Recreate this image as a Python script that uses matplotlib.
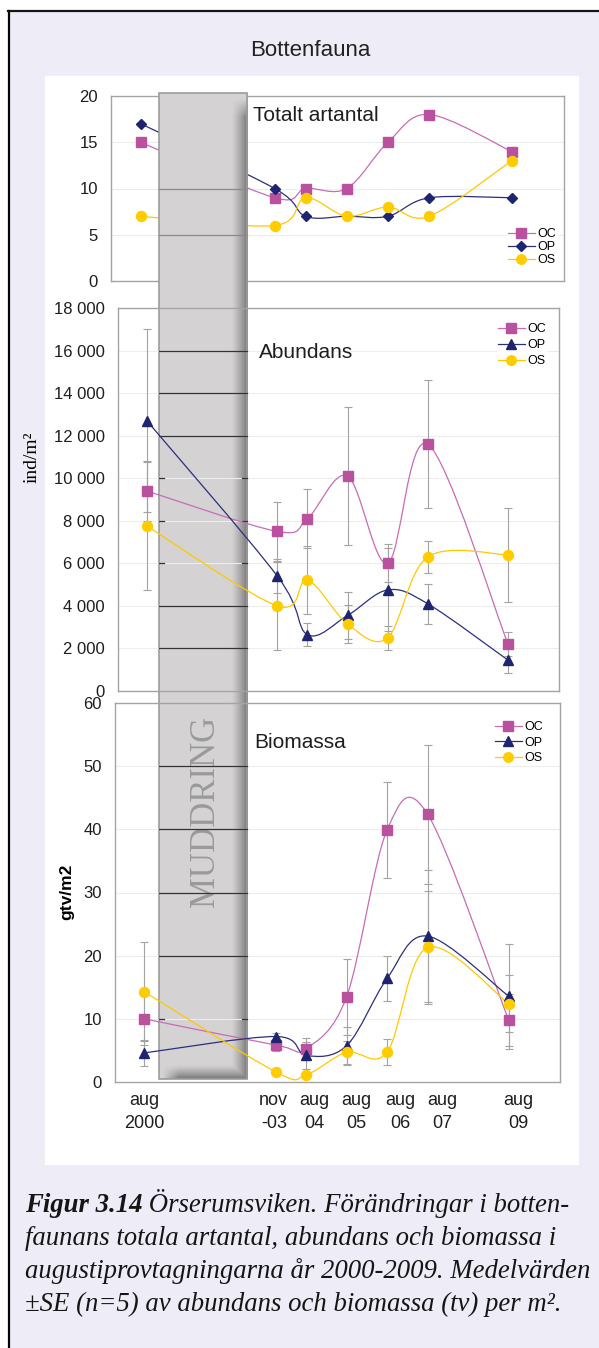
import numpy as np
import matplotlib
matplotlib.use('Agg')
import matplotlib.pyplot as plt
import matplotlib.transforms as mtransforms
from matplotlib.path import Path
from matplotlib.patches import PathPatch, Rectangle
from matplotlib.lines import Line2D
from matplotlib.ticker import FuncFormatter

# -------- data --------
dates = [2000.6, 2003.85, 2004.6, 2005.6, 2006.6, 2007.6, 2009.6]
date_labels = ['aug\n2000', 'nov\n-03', 'aug\n04', 'aug\n05', 'aug\n06', 'aug\n07', 'aug\n09']
label_dx = [0, -2, 8, 10, 13, 15, 10]   # pixel nudges of the x labels

art_oc = [15, 9, 10, 10, 15, 18, 14]
art_op = [17, 10, 7, 7, 7, 9, 9]
art_os = [7, 6, 9, 7, 8, 7, 13]

abu_oc = [9400, 7500, 8100, 10100, 6000, 11600, 2200]
abu_op = [12700, 5400, 2650, 3550, 4750, 4100, 1450]
abu_os = [7750, 4000, 5200, 3150, 2500, 6300, 6400]
abu_oc_se = [1400, 1400, 1400, 3250, 900, 3000, 550]
abu_op_se = [4300, 800, 550, 1100, 1950, 950, 600]
abu_os_se = [3000, 2050, 1600, 900, 550, 750, 2200]

bio_oc = [10.0, 5.85, 5.3, 13.5, 39.9, 42.4, 9.85]
bio_op = [4.6, 7.2, 4.2, 5.75, 16.4, 23.1, 13.6]
bio_os = [14.3, 1.6, 1.15, 4.7, 4.75, 21.3, 12.4]
bio_oc_se = [4.2, 1.0, 1.6, 6.0, 7.6, 11.0, 4.1]
bio_op_se = [2.0, 0.6, 2.2, 3.0, 3.5, 10.5, 8.3]
bio_os_se = [7.8, 0.4, 0.3, 1.8, 2.1, 9.0, 4.5]

muddring = (2000.97, 2003.15)   # dredging period shown as the grey bar

# -------- styles --------
plt.rcParams['font.family'] = ['Liberation Sans', 'DejaVu Sans']
LAV = '#eeedf7'
OC = dict(mc='#b9519f', lc='#c86bb7', m='s', ms=7)
OS = dict(mc='#ffcc00', lc='#ffc800', m='o', ms=7.2)
OP_D = dict(mc='#1f2470', lc='#2b307a', m='D', ms=5)
OP_T = dict(mc='#1f2470', lc='#2b307a', m='^', ms=7.5)
XLIM = (1999.88, 2010.87)

W, H = 599, 1348
fig = plt.figure(figsize=(W / 100, H / 100), dpi=100, facecolor='white')
px = mtransforms.Affine2D().scale(1 / W, -1 / H).translate(0, 1) + fig.transFigure


def rect(x0, y0, x1, y1):
    return [x0 / W, 1 - y1 / H, (x1 - x0) / W, (y1 - y0) / H]


# background, frame and white chart area
fig.add_artist(Rectangle((9, 11), 590, 1337, transform=px, facecolor=LAV, edgecolor='none'))
fig.add_artist(Line2D([8, 599], [11, 11], transform=px, color='#151515', lw=1.6))
fig.add_artist(Line2D([9, 9], [11, 1348], transform=px, color='#050505', lw=1.6))
fig.add_artist(Rectangle((45, 76), 534, 1089, transform=px, facecolor='white', edgecolor='none'))
fig.text(310 / W, 1 - 51 / H, 'Bottenfauna', fontsize=16, ha='center', va='center',
         family=['Liberation Sans Narrow', 'Liberation Sans'], color='#222222')


def smooth_path(x, y):
    # Excel-like smoothed line: cubic Bezier through every point
    pts = np.column_stack([x, y]).astype(float)
    n = len(pts)
    verts, codes = [pts[0]], [Path.MOVETO]
    for i in range(n - 1):
        p_prev, p0, p1, p_next = pts[max(i - 1, 0)], pts[i], pts[i + 1], pts[min(i + 2, n - 1)]
        verts += [p0 + (p1 - p_prev) / 6, p1 - (p_next - p0) / 6, p1]
        codes += [Path.CURVE4] * 3
    return Path(verts, codes)


def draw_series(ax, y, st, se=None, name=None):
    if se is not None:
        ax.errorbar(dates, y, yerr=se, fmt='none', ecolor='#a3a3a3', elinewidth=0.8,
                    capsize=2.6, capthick=0.8, zorder=2)
    ax.add_patch(PathPatch(smooth_path(dates, y), fill=False, edgecolor=st['lc'], lw=0.9, zorder=3))
    ax.plot(dates, y, ls='none', marker=st['m'], ms=st['ms'], mfc=st['mc'], mec=st['mc'], zorder=4)
    return Line2D([], [], color=st['lc'], lw=0.9, marker=st['m'], ms=st['ms'] * 0.95,
                  mfc=st['mc'], mec=st['mc'], label=name)


def style(ax, top, step):
    ax.set_facecolor('none')
    ax.set_xlim(*XLIM)
    ax.set_ylim(0, top)
    ax.set_yticks(np.arange(0, top + step / 2, step))
    for s in ax.spines.values():
        s.set_color('#a4a4a4')
        s.set_linewidth(1.0)
    ax.grid(axis='y', color='#ededed', lw=0.8)
    ax.set_axisbelow(True)
    ax.tick_params(axis='y', length=0, pad=9.5, labelsize=12, labelcolor='#1e1e1e')
    ax.tick_params(axis='x', length=0)


ax1 = fig.add_axes(rect(111, 96, 564, 281), zorder=1)
ax2 = fig.add_axes(rect(118, 308, 559, 691), zorder=3)
ax3 = fig.add_axes(rect(115, 703, 560, 1082), zorder=3)

style(ax1, 20, 5)
style(ax2, 18000, 2000)
style(ax3, 60, 10)
ax1.set_xticks([])
ax2.set_xticks([])
ax2.yaxis.set_major_formatter(FuncFormatter(lambda v, p: f'{int(v):,}'.replace(',', ' ')))

# --- Totalt artantal ---
h1 = [draw_series(ax1, art_oc, OC, name='OC'),
      draw_series(ax1, art_op, OP_D, name='OP'),
      draw_series(ax1, art_os, OS, name='OS')]
ax1.text(0.313, 0.892, 'Totalt artantal', transform=ax1.transAxes, fontsize=15,
         ha='left', va='center', color='#1e1e1e')

# --- Abundans ---
h2 = [draw_series(ax2, abu_oc, OC, abu_oc_se, 'OC'),
      draw_series(ax2, abu_op, OP_T, abu_op_se, 'OP'),
      draw_series(ax2, abu_os, OS, abu_os_se, 'OS')]
ax2.text(0.32, 0.885, 'Abundans', transform=ax2.transAxes, fontsize=15,
         ha='left', va='center', color='#1e1e1e')
ax2.set_ylabel('ind/m²', family='Liberation Serif', fontsize=14, va='center')
ax2.yaxis.set_label_coords(-0.195, 0.611)

# --- Biomassa ---
h3 = [draw_series(ax3, bio_oc, OC, bio_oc_se, 'OC'),
      draw_series(ax3, bio_op, OP_T, bio_op_se, 'OP'),
      draw_series(ax3, bio_os, OS, bio_os_se, 'OS')]
ax3.text(0.312, 0.897, 'Biomassa', transform=ax3.transAxes, fontsize=15,
         ha='left', va='center', color='#1e1e1e')
ax3.set_ylabel('gtv/m2', fontsize=12.5, weight='bold', va='center')
ax3.yaxis.set_label_coords(-0.108, 0.501)
ax3.set_xticks(dates)
ax3.set_xticklabels(date_labels, fontsize=13, linespacing=1.45, color='#1e1e1e')
ax3.tick_params(axis='x', pad=7)
for lab, dx in zip(ax3.get_xticklabels(), label_dx):
    lab.set_transform(lab.get_transform() + mtransforms.ScaledTranslation(dx / 100, 0, fig.dpi_scale_trans))

# legends
for ax, hs, (lx, ly), lsp in [(ax1, h1, (507, 227), 0.08),
                              (ax2, h2, (497, 322), 0.32),
                              (ax3, h3, (494, 720), 0.28)]:
    ax.legend(handles=hs, loc='upper left', bbox_to_anchor=(lx, ly), bbox_transform=px,
              frameon=True, facecolor='white', edgecolor='none', framealpha=1, fancybox=False,
              borderpad=0.1, borderaxespad=0, handlelength=2.1, handletextpad=0.25,
              labelspacing=lsp, fontsize=9)

# -------- MUDDRING bar --------
bx0 = ax3.transData.transform((muddring[0], 0))[0]
bx1 = ax3.transData.transform((muddring[1], 0))[0]
by0, by1 = 93, 1079
bar = fig.add_axes(rect(bx0, by0, bx1, by1), zorder=2)
bar.axis('off')
bw, bh = int(round(bx1 - bx0)), int(by1 - by0)
cols = np.arange(bw) + 0.5
rows = np.arange(bh) + 0.5
sr = np.clip(1 - (bw - cols) / 16, 0, 1) ** 1.2
sr_on = np.clip((rows - 6) / 18, 0, 1)
sb = np.clip(1 - (bh - rows) / 14, 0, 1) ** 1.2
sb_on = np.clip((cols - 4) / 16, 0, 1)
shade = np.maximum(sr[None, :] * sr_on[:, None], sb[:, None] * sb_on[None, :])
base = np.array([0.835, 0.824, 0.824])
img = base[None, None, :] * (1 - 0.45 * shade[..., None])
bar.imshow(img, aspect='auto', extent=(0, 1, 0, 1), interpolation='bilinear')
bar.add_patch(Rectangle((0, 0), 1, 1, transform=bar.transAxes, fill=False,
                        edgecolor='#9c9c9c', lw=1.2, clip_on=False))
bar.text(0.52, 0.271, 'MUDDRING', transform=bar.transAxes, rotation=90, ha='center',
         va='center', fontsize=25, family='Liberation Serif', color='#9a9a9a')

# grid lines seen through the bar (full lines or short edge ticks)
for ax, host, full, ticks, col in [(ax1, bar, [5, 10], [], '#8a8a8a'),
                                   (ax2, ax2, [2000, 4000, 12000, 14000, 16000], [6000, 8000, 10000], '#333333'),
                                   (ax3, ax3, [20, 30, 40, 50], [10], '#333333')]:
    tr = mtransforms.blended_transform_factory(bar.transAxes, ax.transData)
    for v in full:
        host.plot([0, 1], [v, v], transform=tr, color=col, lw=0.9, clip_on=False, zorder=1.5)
    for v in ticks:
        for xs in ([0, 0.06], [0.94, 1]):
            host.plot(xs, [v, v], transform=tr, color=col, lw=0.9, clip_on=False, zorder=1.5)

for ax, top in [(ax1, 20), (ax2, 18000), (ax3, 60)]:
    ax.set_xlim(*XLIM)
    ax.set_ylim(0, top)

# -------- caption --------
CAP = dict(fontsize=19.3, style='italic', family='Liberation Serif', color='#151515', va='baseline')
y0, dy = 1212, 33
t1 = fig.text(25 / W, 1 - y0 / H, 'Figur 3.14', weight='bold', **CAP)
bb = t1.get_window_extent(renderer=fig.canvas.get_renderer())
fig.text(bb.x1 / W, 1 - y0 / H, ' Örserumsviken. Förändringar i botten-', **CAP)
for i, line in enumerate(['faunans totala artantal, abundans och biomassa i',
                          'augustiprovtagningarna år 2000-2009. Medelvärden',
                          '±SE (n=5) av abundans och biomassa (tv) per m².']):
    fig.text(25 / W, 1 - (y0 + dy * (i + 1)) / H, line, **CAP)

fig.savefig('out.png', dpi=100)
